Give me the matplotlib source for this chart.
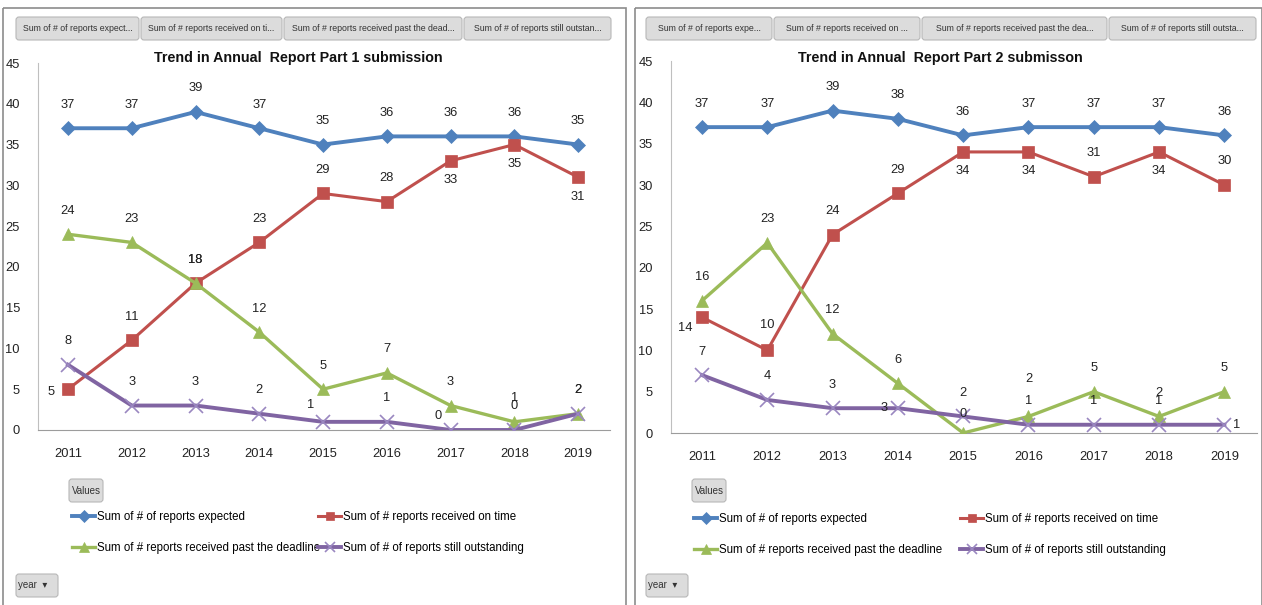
import matplotlib
matplotlib.use("Agg")
import matplotlib.pyplot as plt
from matplotlib.patches import FancyBboxPatch, Rectangle

years = ["2011", "2012", "2013", "2014", "2015", "2016", "2017", "2018", "2019"]

p1_expected = [37, 37, 39, 37, 35, 36, 36, 36, 35]
p1_on_time = [5, 11, 18, 23, 29, 28, 33, 35, 31]
p1_past = [24, 23, 18, 12, 5, 7, 3, 1, 2]
p1_outstanding = [8, 3, 3, 2, 1, 1, 0, 0, 2]

p2_expected = [37, 37, 39, 38, 36, 37, 37, 37, 36]
p2_on_time = [14, 10, 24, 29, 34, 34, 31, 34, 30]
p2_past = [16, 23, 12, 6, 0, 2, 5, 2, 5]
p2_outstanding = [7, 4, 3, 3, 2, 1, 1, 1, 1]

series_names = [
    "Sum of # of reports expected",
    "Sum of # reports received on time",
    "Sum of # reports received past the deadline",
    "Sum of # of reports still outstanding",
]
p1_buttons = [
    "Sum of # of reports expect...",
    "Sum of # reports received on ti...",
    "Sum of # reports received past the dead...",
    "Sum of # of reports still outstan...",
]
p2_buttons = [
    "Sum of # of reports expe...",
    "Sum of # reports received on ...",
    "Sum of # reports received past the dea...",
    "Sum of # of reports still outsta...",
]

plt.rcParams["font.family"] = ["Liberation Sans", "DejaVu Sans"]

colors = ["#4F81BD", "#C0504D", "#9BBB59", "#8064A2"]
markers = ["D", "s", "^", "x"]
msizes = [7.5, 8, 9, 9.5]
lwidths = [2.8, 2.2, 2.4, 2.8]

W, H = 1262, 605
fig = plt.figure(figsize=(W / 100, H / 100), dpi=100)

# pixel-space overlay for panel frames, titles and pivot buttons
bg = fig.add_axes([0, 0, 1, 1], zorder=0)
bg.set_xlim(0, W)
bg.set_ylim(H, 0)
bg.axis("off")


def button(x0, y0, x1, y1, text, fs=6.3, ha="center"):
    bg.add_patch(FancyBboxPatch((x0 + 1, y0 + 1), x1 - x0 - 2, y1 - y0 - 2,
                                boxstyle="round,pad=0,rounding_size=3",
                                facecolor="#DCDCDC", edgecolor="#B8B8B8", linewidth=0.8))
    tx = (x0 + x1) / 2 if ha == "center" else x0 + 3
    bg.text(tx, (y0 + y1) / 2, text, fontsize=fs, ha=ha, va="center", color="#333333")


def px_axes(x0, y0, x1, y1):
    return fig.add_axes([x0 / W, 1 - y1 / H, (x1 - x0) / W, (y1 - y0) / H], zorder=2)


def draw_panel(frame, btn_edges, btn_labels, ax_box, x_lo, title, title_x, data, offsets):
    fx0, fx1 = frame
    bg.add_patch(Rectangle((fx0, 8), fx1 - fx0, H, fill=False, edgecolor="#8C8C8C", linewidth=1.2))
    for i, lab in enumerate(btn_labels):
        button(btn_edges[i], 16, btn_edges[i + 1], 41, lab)
    bg.text(title_x, 58, title, fontsize=10.3, fontweight="bold", ha="center", va="center",
            color="#111111")

    ax = px_axes(*ax_box)
    ax.set_facecolor("none")
    x = list(range(len(years)))
    for k, vals in enumerate(data):
        ax.plot(x, vals, color=colors[k], linewidth=lwidths[k], marker=markers[k],
                markersize=msizes[k], markeredgewidth=1.2 if k == 3 else 0.5,
                markeredgecolor=colors[k] if k != 3 else "#9A87C0",
                label=series_names[k], zorder=3 + k * 0.1)
        for i, v in enumerate(vals):
            dx, dy = offsets.get((k, i), (0, 17))
            ax.annotate(str(v), (i, v), xytext=(dx, dy), textcoords="offset points",
                        ha="center", va="center", fontsize=9.3, color="#222222", zorder=6)

    ax.set_ylim(0, 45)
    ax.set_yticks(range(0, 46, 5))
    ax.set_xlim(x_lo, 8.5)
    ax.set_xticks(x)
    ax.set_xticklabels(years)
    for s in ["top", "right"]:
        ax.spines[s].set_visible(False)
    ax.spines["left"].set_color("#BFBFBF")
    ax.spines["bottom"].set_color("#9C9C9C")
    ax.tick_params(axis="both", length=0, labelsize=9.3, colors="#222222")
    ax.tick_params(axis="x", pad=13)
    ax.tick_params(axis="y", pad=13)
    return ax


p1_offsets = {
    (1, 0): (-12, -2), (1, 6): (0, -14), (1, 7): (0, -14), (1, 8): (0, -14),
    (3, 4): (-9, 12), (3, 6): (-9, 10),
}
p2_offsets = {
    (1, 0): (-12, -8), (1, 4): (0, -14), (1, 5): (0, -14), (1, 7): (0, -14),
    (1, 1): (0, 18), (3, 3): (-10, 0), (3, 8): (9, 0),
    (2, 4): (0, 14), (2, 5): (0, 27),
}

ax1 = draw_panel((3, 626), [15, 140, 283, 463, 612], p1_buttons, (38, 63, 610, 430), -0.47,
                 "Trend in Annual  Report Part 1 submission", 298,
                 [p1_expected, p1_on_time, p1_past, p1_outstanding], p1_offsets)
ax2 = draw_panel((635, 1262), [645, 773, 921, 1108, 1257], p2_buttons, (671, 61, 1257, 433), -0.475,
                 "Trend in Annual  Report Part 2 submisson", 940,
                 [p2_expected, p2_on_time, p2_past, p2_outstanding], p2_offsets)

# legends (one entry each, Excel-style two-row grid), "Values" and "year" buttons
panels = [(ax1, 68, 15, [72, 318], [517, 548]), (ax2, 691, 645, [694, 960], [519, 550])]
for ax, vx, yx, cols, rows in panels:
    button(vx, 478, vx + 36, 503, "Values", fs=7)
    button(yx, 573, yx + 44, 598, "year  \u25be", fs=7, ha="left")
    handles, labels = ax.get_legend_handles_labels()
    for i in range(4):
        cx = cols[i % 2]
        cy = rows[i // 2]
        fig.legend([handles[i]], [labels[i]], loc="center left",
                   bbox_to_anchor=(cx / W, 1 - cy / H), frameon=False, fontsize=8.3,
                   handlelength=2.0, handletextpad=0.15, borderpad=0, borderaxespad=0,
                   markerscale=0.75)

fig.savefig("out.png", dpi=100)
